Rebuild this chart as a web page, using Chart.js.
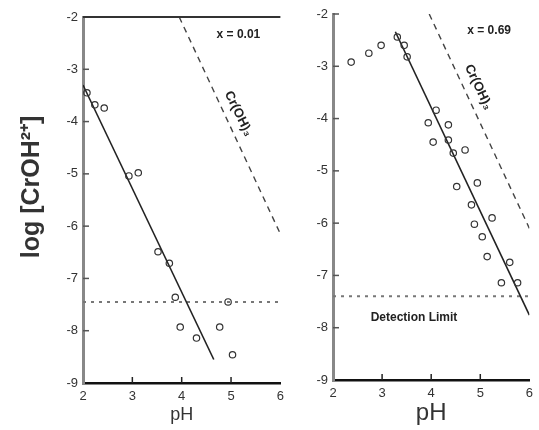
<html>
  <head>
    <script src="https://cdn.jsdelivr.net/npm/chart.js"></script>
    <meta charset="UTF-8" />
    <style>
      body { margin: 0; background: #fff; }
      #wrap { position: relative; width: 539px; height: 430px; }
      #leftChart { position: absolute; left: 0; top: 0; }
      #rightChart { position: absolute; left: 290px; top: 0; }
    </style>
  </head>
  <body>
    <div id="wrap">
      <canvas id="leftChart" width="290" height="430"></canvas>
      <canvas id="rightChart" width="249" height="430"></canvas>
    </div>
    <script>
      // x = 0.01 panel
      const leftPH = [2.08, 2.24, 2.43, 2.93, 3.12, 3.52, 3.75, 3.87, 3.97, 4.3, 4.77, 4.94, 5.03];
      const leftLogCr = [-3.45, -3.68, -3.74, -5.04, -4.98, -6.49, -6.71, -7.36, -7.93, -8.14, -7.93, -7.45, -8.46];
      const leftFitPH = [2.0, 4.65];
      const leftFitLog = [-3.3, -8.55];
      const leftSolPH = [3.95, 6.0];
      const leftSolLog = [-2.0, -6.15];
      const leftLimit = -7.45;

      // x = 0.69 panel
      const rightPH = [2.37, 2.73, 2.98, 3.31, 3.45, 3.51, 4.1, 3.94, 4.35, 4.04, 4.35, 4.45, 4.69, 4.52, 4.94, 4.82, 4.88, 5.24, 5.04, 5.14, 5.6, 5.43, 5.76];
      const rightLogCr = [-2.92, -2.75, -2.6, -2.44, -2.6, -2.82, -3.84, -4.08, -4.12, -4.45, -4.41, -4.66, -4.6, -5.3, -5.23, -5.65, -6.02, -5.9, -6.26, -6.64, -6.75, -7.14, -7.14];
      const rightFitPH = [3.27, 6.0];
      const rightFitLog = [-2.34, -7.76];
      const rightSolPH = [3.96, 6.0];
      const rightSolLog = [-2.0, -6.1];
      const rightLimit = -7.4;

      const pHTicks = [2, 3, 4, 5, 6];
      const logTicks = [-9, -8, -7, -6, -5, -4, -3, -2];

      const pairs = (xs, ys) => xs.map((v, i) => ({ x: v, y: ys[i] }));

      const decor = {
        id: "decor",
        afterDatasetsDraw(chart, args, opts) {
          const { ctx, chartArea, scales: { x, y } } = chart;
          ctx.save();
          ctx.strokeStyle = "#222";
          ctx.lineWidth = 1.5;
          // inward ticks
          x.ticks.forEach(t => {
            const px = x.getPixelForValue(t.value);
            if (px > chartArea.left + 3 && px < chartArea.right - 1) {
              ctx.beginPath();
              ctx.moveTo(px, chartArea.bottom);
              ctx.lineTo(px, chartArea.bottom - 6);
              ctx.stroke();
            }
          });
          ctx.strokeStyle = "#555";
          y.ticks.forEach(t => {
            const py = y.getPixelForValue(t.value);
            if (py < chartArea.bottom - 3) {
              ctx.beginPath();
              ctx.moveTo(chartArea.left, py);
              ctx.lineTo(chartArea.left + 6, py);
              ctx.stroke();
            }
          });
          if (opts.topLine) {
            ctx.strokeStyle = "#333";
            ctx.lineWidth = 2;
            ctx.beginPath();
            ctx.moveTo(chartArea.left, chartArea.top);
            ctx.lineTo(chartArea.right, chartArea.top);
            ctx.stroke();
          }
          ctx.fillStyle = "#222";
          ctx.textAlign = "center";
          ctx.textBaseline = "middle";
          (opts.notes || []).forEach(n => {
            ctx.save();
            ctx.font = n.font;
            ctx.translate(x.getPixelForValue(n.x), y.getPixelForValue(n.y));
            ctx.rotate((n.angle || 0) * Math.PI / 180);
            ctx.fillText(n.text, 0, 0);
            ctx.restore();
          });
          // y axis title, placed left of the axis
          if (opts.yTitle) {
            ctx.save();
            ctx.fillStyle = "#333";
            ctx.font = "bold 25px Arial";
            ctx.translate(chartArea.left - 51, y.getPixelForValue(-5.25));
            ctx.rotate(-Math.PI / 2);
            ctx.fillText(opts.yTitle, 0, 0);
            ctx.restore();
          }
          ctx.restore();
        },
      };

      function makeChart(id, cfg) {
        const data = {
          datasets: [
            {
              data: pairs(cfg.ph, cfg.log),
              showLine: false,
              pointStyle: "circle",
              pointRadius: 3.2,
              borderColor: "#333",
              backgroundColor: "rgba(0,0,0,0)",
              borderWidth: 1.2,
            },
            {
              data: pairs(cfg.fitPH, cfg.fitLog),
              showLine: true,
              pointRadius: 0,
              borderColor: "#222",
              borderWidth: 1.6,
            },
            {
              data: pairs(cfg.solPH, cfg.solLog),
              showLine: true,
              pointRadius: 0,
              borderColor: "#444",
              borderWidth: 1.4,
              borderDash: [6, 5],
            },
            {
              data: pairs([2, 6], [cfg.limit, cfg.limit]),
              showLine: true,
              pointRadius: 0,
              borderColor: "#777",
              borderWidth: 2,
              borderDash: [3, 5],
            },
          ],
        };

        return new Chart(document.getElementById(id), {
          type: "scatter",
          data: data,
          options: {
            responsive: false,
            animation: false,
            layout: { padding: { left: 0, right: cfg.padRight, top: cfg.padTop, bottom: 0 } },
            plugins: {
              legend: { display: false },
              tooltip: { enabled: false },
              decor: { topLine: cfg.topLine, notes: cfg.notes, yTitle: cfg.yTitle },
            },
            scales: {
              x: {
                type: "linear",
                min: 2,
                max: 6,
                afterBuildTicks: s => { s.ticks = pHTicks.map(v => ({ value: v })); },
                afterFit: s => { s.height = cfg.xHeight; },
                grid: { display: false, drawTicks: false },
                border: { color: "#111", width: 2.5 },
                ticks: { color: "#333", padding: 6, font: { family: "Arial", size: 13 } },
                title: {
                  display: true,
                  text: "pH",
                  color: "#333",
                  font: { family: "Arial", size: cfg.pHSize },
                  padding: { top: 0, bottom: cfg.pHPad },
                },
              },
              y: {
                type: "linear",
                min: -9,
                max: -2,
                afterBuildTicks: s => { s.ticks = logTicks.map(v => ({ value: v })); },
                afterFit: s => { s.width = cfg.yWidth; },
                grid: { display: false, drawTicks: false },
                border: { color: "#888", width: 3 },
                ticks: { color: "#333", padding: 5, font: { family: "Arial", size: 13 } },
                title: { display: false },
              },
            },
          },
          plugins: [decor],
        });
      }

      makeChart("leftChart", {
        ph: leftPH, log: leftLogCr,
        fitPH: leftFitPH, fitLog: leftFitLog,
        solPH: leftSolPH, solLog: leftSolLog,
        limit: leftLimit,
        padRight: 4, padTop: 17, xHeight: 47, yWidth: 83,
        pHSize: 18, pHPad: 4, yTitle: "log [CrOH²⁺]", topLine: true,
        notes: [
          { text: "x = 0.01", x: 5.15, y: -2.33, font: "bold 12px Arial" },
          { text: "Cr(OH)₃", x: 5.15, y: -3.85, angle: 64, font: "bold 13px Arial" },
        ],
      });

      makeChart("rightChart", {
        ph: rightPH, log: rightLogCr,
        fitPH: rightFitPH, fitLog: rightFitLog,
        solPH: rightSolPH, solLog: rightSolLog,
        limit: rightLimit,
        padRight: 2, padTop: 14, xHeight: 50, yWidth: 43,
        pHSize: 24, pHPad: 2, yTitle: null, topLine: false,
        notes: [
          { text: "x = 0.69", x: 5.18, y: -2.31, font: "bold 12px Arial" },
          { text: "Cr(OH)₃", x: 4.96, y: -3.4, angle: 65, font: "bold 13px Arial" },
          { text: "Detection Limit", x: 3.65, y: -7.8, font: "bold 12px Arial" },
        ],
      });
    </script>
  </body>
</html>
